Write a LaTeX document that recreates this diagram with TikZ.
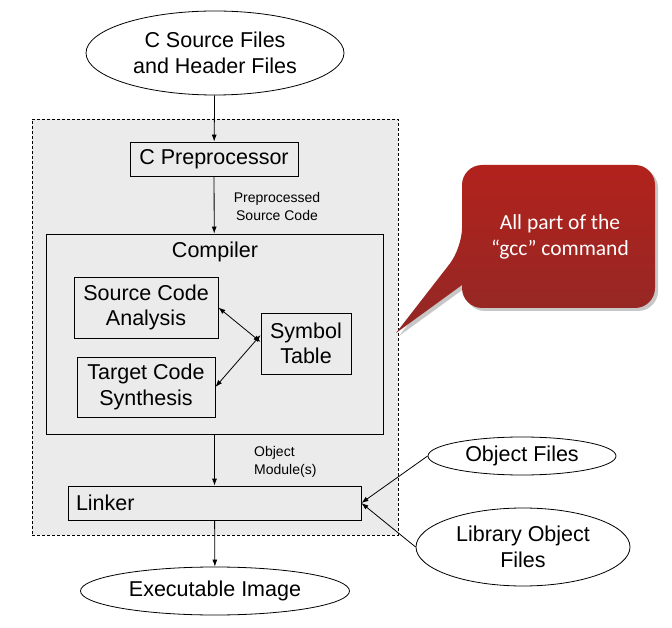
\documentclass[tikz,border=0pt]{standalone}
\usepackage{fontspec}
\setmainfont{Liberation Sans}
\newfontfamily\calloutfont{Carlito}
\usetikzlibrary{shapes.geometric,arrows.meta}
\definecolor{boxgray}{RGB}{235,235,235}
\definecolor{ctop}{RGB}{178,34,28}
\definecolor{cbot}{RGB}{146,40,38}
\begin{document}
\begin{tikzpicture}[x=1pt,y=-1pt,
  every node/.style={font=\fontsize{21.5}{25.5}\selectfont},
  box/.style={draw, fill=boxgray, rectangle, inner sep=0pt, align=center, line width=0.8pt},
  oval/.style={draw, fill=white, ellipse, inner sep=0pt, align=center, line width=0.8pt},
  small/.style={font=\fontsize{14}{18}\selectfont, inner sep=0pt},
  arr/.style={-{Latex[length=7pt,width=5pt]}, line width=0.8pt},
  darr/.style={{Latex[length=7pt,width=5pt]}-{Latex[length=7pt,width=5pt]}, line width=0.8pt}]
\useasboundingbox (0,0) rectangle (672,628);

% dashed gcc region
\node[draw, fill=boxgray, dash pattern=on 3pt off 2pt, line width=0.8pt, minimum width=366pt, minimum height=416pt, inner sep=0pt] (gcc) at (215,327) {};

% nodes
\node[oval, minimum width=258pt, minimum height=84pt] (src) at (215,53) {C Source Files\\and Header Files};
\node[box, minimum width=168pt, minimum height=34pt] (pre) at (214,159) {C Preprocessor};
\node[small, align=center] (pplabel) at (277,206) {Preprocessed\\Source Code};
\node[box, minimum width=337pt, minimum height=200pt] (comp) at (214.5,334) {};
\node (complabel) at (215,252) {Compiler};
\node[box, minimum width=144pt, minimum height=61pt] (sca) at (146,307.5) {Source Code\\Analysis};
\node[box, minimum width=138pt, minimum height=60pt] (tcs) at (146,387) {Target Code\\Synthesis};
\node[box, minimum width=90pt, minimum height=61pt] (sym) at (306,343.5) {Symbol\\Table};
\node[small, align=left, anchor=west] (omlabel) at (254,462) {Object\\Module(s)};
\node[box, text width=277pt, align=left, inner xsep=8pt, minimum height=34pt] (link) at (214.5,503) {Linker};
\node[oval, minimum width=188pt, minimum height=38pt] (objf) at (522,456) {Object Files};
\node[oval, minimum width=214pt, minimum height=78pt] (libf) at (523,547) {Library Object\\Files};
\node[oval, minimum width=269pt, minimum height=48pt] (exe) at (215,591) {Executable Image};

% connectors
\draw[arr] (src) -- (pre);
\draw[arr] (pre) -- (comp);
\draw[darr] (sca.east) -- ([yshift=1.5pt]sym.west);
\draw[darr] (tcs.east) -- ([yshift=8.5pt]sym.west);
\draw[arr] (comp) -- (link);
\draw[arr] (objf.west) -- (link.east);
\draw[arr] (libf.west) -- (link.east);
\draw[arr] (link) -- (exe);

% callout
\fill[black, opacity=0.22, shift={(3,3)}] (396,333) -- (462,285) [rounded corners=20pt] -- (462,308) -- (655,308) -- (655,165) -- (462,165) -- (462,248) [sharp corners] -- cycle;
\path[top color=ctop, bottom color=cbot] (396,333) -- (462,285) [rounded corners=20pt] -- (462,308) -- (655,308) -- (655,165) -- (462,165) -- (462,248) [sharp corners] -- cycle;
\node[text=white, font=\calloutfont\fontsize{21.5}{26}\selectfont, align=center] (callout) at (560,237) {All part of the\\“gcc” command};
\end{tikzpicture}
\end{document}
